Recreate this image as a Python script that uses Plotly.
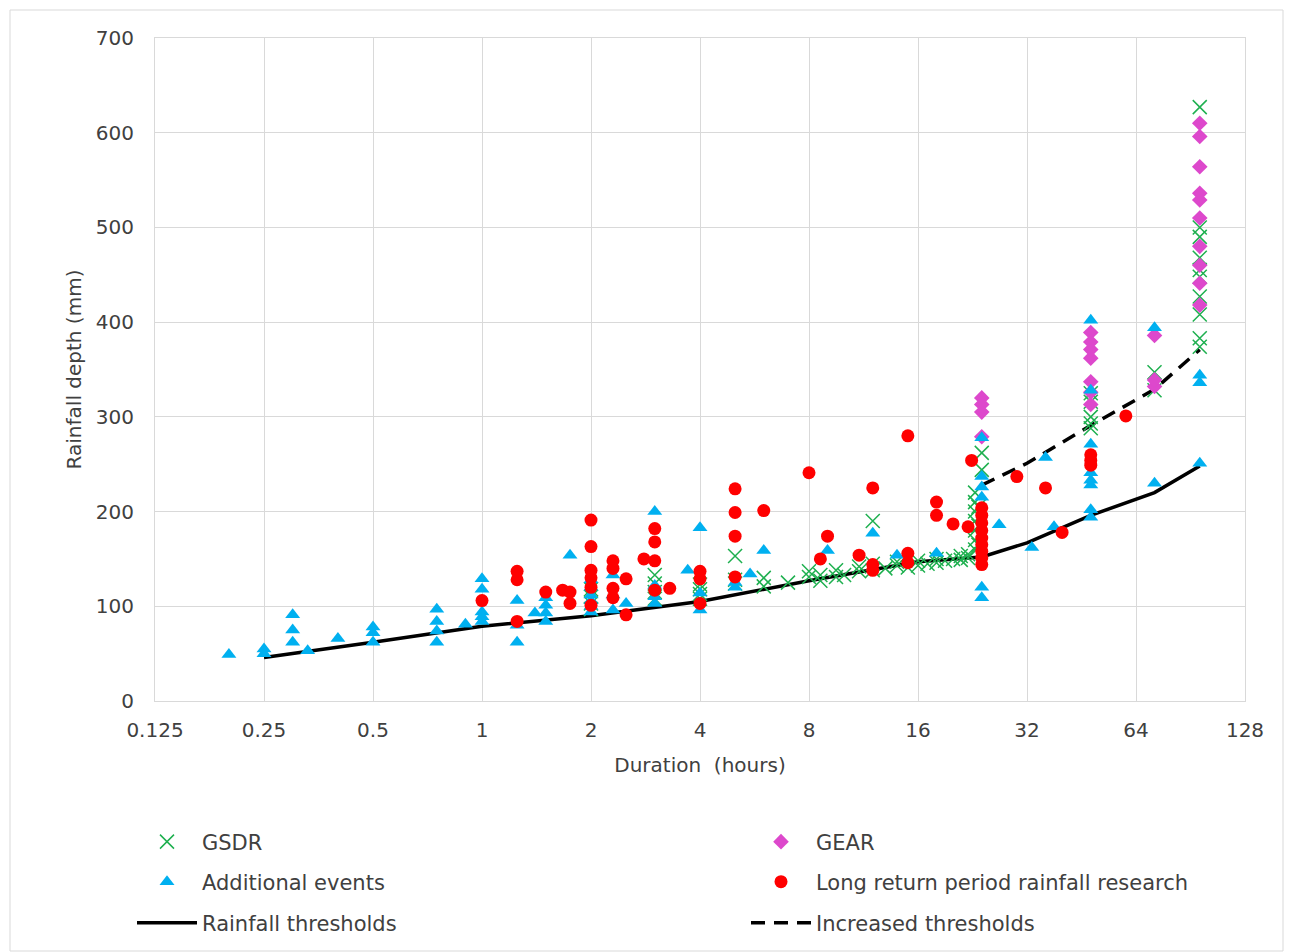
import math
import plotly.graph_objects as go

# ---------------- data ----------------
threshold_hours = [0.25, 0.5, 1, 2, 4, 8, 16, 24, 32, 48, 72, 96]
threshold_mm = [46, 62, 79, 90, 105, 127, 147, 152, 167, 196, 220, 248]

increased_hours = [24, 32, 48, 72, 96]
increased_mm = [228, 251, 291, 329, 371]

gsdr_hours = [2, 2, 2, 2, 3, 3, 3, 3, 4, 4, 4, 4, 5, 5, 5, 6, 6, 7, 8, 8, 8.6, 8.6,
              9.5, 9.5, 10, 11, 11, 12, 12, 12, 13, 14, 14, 15, 16, 16, 17, 18, 18,
              19, 20, 21, 21, 22, 22, 23, 23, 23, 23, 23, 23, 23, 23.5, 23.5, 23.5,
              24, 24, 48, 48, 48, 48, 48, 72, 72, 96, 96, 96, 96, 96, 96, 96, 96, 96, 96]
gsdr_mm = [97, 103, 110, 118, 108, 115, 124, 133, 108, 113, 118, 123, 124, 128, 153, 121, 130, 125, 131, 137, 127, 133,
           131, 138, 133, 137, 142, 138, 145, 190, 140, 143, 147, 141, 143, 148, 145, 146, 150,
           148, 150, 149, 153, 151, 155, 160, 170, 180, 190, 200, 210, 220, 165, 185, 205,
           244, 262, 288, 293, 300, 316, 325, 328, 347, 374, 383, 408, 427, 448, 455, 468, 490, 500, 627]

gear_hours = [24, 24, 24, 24, 48, 48, 48, 48, 48, 48, 48, 72, 72, 72,
              96, 96, 96, 96, 96, 96, 96, 96, 96, 96]
gear_mm = [279, 305, 313, 320, 313, 326, 337, 362, 371, 379, 389, 332, 339, 386,
           418, 441, 460, 480, 510, 529, 536, 564, 596, 610]

add_hours = [0.2, 0.25, 0.25, 0.3, 0.3, 0.3, 0.33, 0.4, 0.5, 0.5, 0.5, 0.75, 0.75, 0.75, 0.75, 0.9,
             1, 1, 1, 1, 1, 1.25, 1.25, 1.25, 1.4, 1.5, 1.5, 1.5, 1.5, 1.75,
             2, 2, 2, 2, 2, 2, 2.3, 2.3, 2.3, 2.5, 3, 3, 3, 3, 3.7, 4, 4, 4, 5, 5, 5.5, 6, 9, 12, 14, 18,
             24, 24, 24, 24, 24, 24, 26.8, 33, 36, 38,
             48, 48, 48, 48, 48, 48, 48, 48, 72, 72, 96, 96, 96]
add_mm = [49, 50, 55, 62, 75, 91, 53, 66, 62, 72, 78, 62, 74, 84, 97, 81,
          84, 89, 94, 118, 129, 62, 80, 106, 93, 84, 93, 101, 109, 154,
          94, 100, 106, 112, 120, 128, 96, 112, 133, 103, 103, 110, 122, 200, 138, 96, 114, 183, 120, 125, 134, 159, 159, 177, 154, 156,
          109, 120, 215, 226, 237, 278, 186, 162, 257, 184,
          194, 202, 228, 233, 241, 271, 328, 402, 230, 394, 251, 336, 344]

lrp_hours = [1, 1.25, 1.25, 1.25, 1.5, 1.67, 1.75, 1.75, 2, 2, 2, 2, 2, 2, 2.3, 2.3, 2.3, 2.3,
             2.5, 2.5, 2.8, 3, 3, 3, 3, 3.3, 4, 4, 4, 5, 5, 5, 5, 6, 8, 8.6, 9, 11, 12, 12, 12,
             15, 15, 15, 18, 18, 20, 22, 22.5, 24, 24, 24, 24, 24, 24, 24, 24, 24,
             30, 36, 40, 48, 48, 48, 60]
lrp_mm = [106, 84, 128, 137, 115, 117, 103, 115, 101, 120, 130, 138, 163, 191, 109, 119, 140, 148,
          91, 129, 150, 117, 148, 168, 182, 119, 103, 129, 137, 131, 174, 199, 224, 201, 241, 150, 174, 154, 138, 144, 225,
          146, 156, 280, 196, 210, 187, 184, 254, 144, 151, 158, 165, 172, 180, 188, 196, 204,
          237, 225, 178, 249, 254, 260, 301]

tick_vals = [0.125, 0.25, 0.5, 1, 2, 4, 8, 16, 32, 64, 128]
tick_text = ["0.125", "0.25", "0.5", "1", "2", "4", "8", "16", "32", "64", "128"]

# ---------------- figure ----------------
FONT = "DejaVu Sans"
TXT = "#404040"
GRID = "#d9d9d9"

fig = go.Figure()

fig.add_trace(go.Scatter(x=threshold_hours, y=threshold_mm, mode="lines", name="Rainfall thresholds",
                         line=dict(color="black", width=3.5), legend="legend5"))
fig.add_trace(go.Scatter(x=increased_hours, y=increased_mm, mode="lines", name="Increased thresholds",
                         line=dict(color="black", width=3.5, dash="14px,9px"), legend="legend6"))
fig.add_trace(go.Scatter(x=gsdr_hours, y=gsdr_mm, mode="markers", name="GSDR",
                         marker=dict(symbol="x-thin", size=14, color="#1fb050",
                                     line=dict(width=1.5, color="#1fb050")), legend="legend"))
fig.add_trace(go.Scatter(x=gear_hours, y=gear_mm, mode="markers", name="GEAR",
                         marker=dict(symbol="diamond", size=12, color="#dd48cc"), legend="legend2"))
fig.add_trace(go.Scatter(x=add_hours, y=add_mm, mode="markers", name="Additional events",
                         marker=dict(symbol="triangle-up", size=13, color="#00b0f0"), legend="legend3"))
fig.add_trace(go.Scatter(x=lrp_hours, y=lrp_mm, mode="markers", name="Long return period rainfall research",
                         marker=dict(symbol="circle", size=13, color="#ff0000"), legend="legend4"))

W, H = 1293, 952
L, R, T, B = 155, 48, 38, 251
pw, ph = W - L - R, H - T - B


def px_x(px):
    return (px - L) / pw


def px_y(py):
    return (H - B - py) / ph


def leg(xpx, ypx):
    return dict(x=px_x(xpx), y=px_y(ypx), orientation="v", xanchor="left", yanchor="middle",
                font=dict(family=FONT, size=21, color=TXT), itemwidth=60,
                bgcolor="rgba(0,0,0,0)", borderwidth=0)


COL1, COL2 = 132, 746
ROW1, ROW2, ROW3 = 842, 882, 923

fig.update_layout(
    width=W, height=H,
    margin=dict(l=L, r=R, t=T, b=B, pad=0, autoexpand=False),
    paper_bgcolor="white", plot_bgcolor="white",
    font=dict(family=FONT, color=TXT),
    xaxis=dict(type="log", range=[math.log10(0.125), math.log10(128)],
               tickvals=tick_vals, ticktext=tick_text,
               tickfont=dict(family=FONT, size=20, color=TXT),
               showgrid=True, gridcolor=GRID, gridwidth=1,
               showline=True, mirror=True, linecolor=GRID, linewidth=1,
               zeroline=False, ticks="", ticklabelstandoff=11,
               title=dict(text="Duration  (hours)", font=dict(family=FONT, size=20, color=TXT), standoff=16)),
    yaxis=dict(range=[0, 700], dtick=100, tick0=0,
               tickfont=dict(family=FONT, size=20, color=TXT),
               showgrid=True, gridcolor=GRID, gridwidth=1,
               showline=True, mirror=True, linecolor=GRID, linewidth=1,
               zeroline=False, ticks="", ticklabelstandoff=16,
               title=dict(text="Rainfall depth (mm)", font=dict(family=FONT, size=20, color=TXT), standoff=8)),
    legend=leg(COL1, ROW1),
    legend2=leg(COL2, ROW1),
    legend3=leg(COL1, ROW2),
    legend4=leg(COL2, ROW2),
    legend5=leg(COL1, ROW3),
    legend6=leg(COL2, ROW3),
    showlegend=True,
    shapes=[dict(type="rect", xref="paper", yref="paper",
                 x0=px_x(10), x1=px_x(1283), y0=px_y(951), y1=px_y(10),
                 line=dict(color=GRID, width=1), layer="below")],
)

fig.write_html("out.html")
